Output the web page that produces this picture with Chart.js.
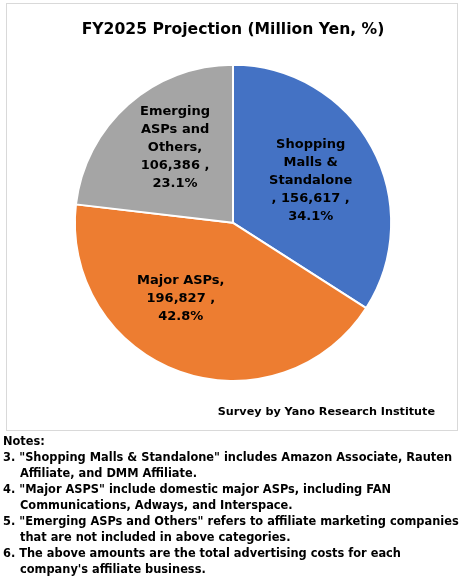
<!DOCTYPE html>
<html>
<head>
<meta charset="utf-8">
<script src="https://cdn.jsdelivr.net/npm/chart.js@4"></script>
<style>
  body { margin: 0; background: #fff; font-family: "DejaVu Sans", sans-serif; }
  #box {
    position: absolute; left: 6px; top: 3px;
    width: 450px; height: 426px;
    border: 1px solid #d9d9d9;
  }
  #credit {
    position: absolute; right: 22px; top: 401px;
    font-weight: bold; font-size: 11.2px; color: #000;
  }
  #notes {
    position: absolute; left: 3px; top: 433px; width: 458px;
    font-weight: bold; font-size: 11.4px; line-height: 16px; color: #000;
  }
  #notes div { padding-left: 17px; text-indent: -17px; }
  #notes div.head { padding-left: 0; text-indent: 0; }
</style>
</head>
<body>
<div id="box">
  <canvas id="pieChart" width="450" height="426"></canvas>
  <div id="credit">Survey by Yano Research Institute</div>
</div>
<div id="notes">
  <div class="head">Notes:</div>
  <div>3. "Shopping Malls &amp; Standalone" includes Amazon Associate, Rauten Affiliate, and DMM Affiliate.</div>
  <div>4. "Major ASPS" include domestic major ASPs, including FAN Communications, Adways, and Interspace.</div>
  <div>5. "Emerging ASPs and Others" refers to affiliate marketing companies that are not included in above categories.</div>
  <div>6. The above amounts are the total advertising costs for each company's affiliate business.</div>
</div>
<script>
// Chart data
const categories = ["Shopping Malls & Standalone", "Major ASPs", "Emerging ASPs and Others"];
const amounts = [156617, 196827, 106386];
const shares = ["34.1%", "42.8%", "23.1%"];
const sliceColors = ["#4472C4", "#ED7D31", "#A5A5A5"];

// Label lines as they wrap in the original
const labelLines = [
  ["Shopping", "Malls &", "Standalone", ", 156,617 ,", "34.1%"],
  ["Major ASPs,", "196,827 ,", "42.8%"],
  ["Emerging", "ASPs and", "Others,", "106,386 ,", "23.1%"],
];
// placement: fraction of radius and angle shift (degrees) from slice middle
const labelPlace = [
  { r: 0.56, shift: 0 },
  { r: 0.58, shift: 15 },
  { r: 0.6, shift: 4 },
];

const sliceLabels = {
  id: "sliceLabels",
  afterDatasetsDraw(chart) {
    const ctx = chart.ctx;
    const meta = chart.getDatasetMeta(0);
    ctx.save();
    ctx.font = "bold 13px 'DejaVu Sans'";
    ctx.fillStyle = "#000";
    ctx.textAlign = "center";
    ctx.textBaseline = "middle";
    meta.data.forEach((arc, i) => {
      const p = labelPlace[i];
      const mid = (arc.startAngle + arc.endAngle) / 2 + (p.shift * Math.PI) / 180;
      const cx = arc.x + Math.cos(mid) * arc.outerRadius * p.r;
      const cy = arc.y + Math.sin(mid) * arc.outerRadius * p.r;
      const lines = labelLines[i];
      const lh = 18;
      const top = cy - ((lines.length - 1) * lh) / 2;
      lines.forEach((t, k) => ctx.fillText(t, cx, top + k * lh));
    });
    ctx.restore();
  },
};

new Chart(document.getElementById("pieChart"), {
  type: "pie",
  data: {
    labels: categories,
    datasets: [
      {
        data: amounts,
        backgroundColor: sliceColors,
        borderColor: "#ffffff",
        borderWidth: 2,
      },
    ],
  },
  options: {
    responsive: false,
    animation: false,
    layout: { padding: { left: 2, bottom: 48 } },
    plugins: {
      legend: { display: false },
      tooltip: { enabled: false },
      title: {
        display: true,
        text: "FY2025 Projection (Million Yen, %)",
        color: "#000",
        font: { family: "'DejaVu Sans'", size: 15.6, weight: "bold" },
        padding: { top: 17, bottom: 24 },
      },
    },
  },
  plugins: [sliceLabels],
});
</script>
</body>
</html>
